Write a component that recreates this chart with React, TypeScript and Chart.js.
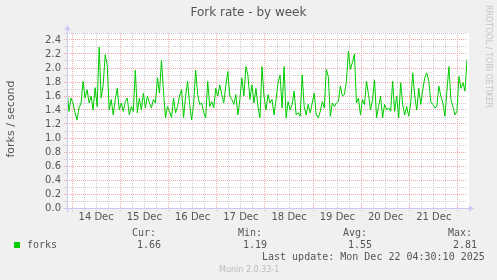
import React, { useEffect, useRef } from "react";
import { Chart, registerables } from "chart.js";

Chart.register(...registerables);

// hours relative to 14 Dec 00:00; series sampled every hour
const START_HOUR = -2.5;
const END_HOUR = 196.5;
const STEP_HOURS = 1;

const forks = [
  1.71, 1.38, 1.57, 1.5, 1.36, 1.26, 1.43, 1.5, 1.81, 1.57,
  1.69, 1.5, 1.6, 1.4, 1.72, 1.45, 2.3, 1.57, 1.76, 2.19,
  2.05, 1.4, 1.55, 1.33, 1.55, 1.71, 1.4, 1.5, 1.38, 1.52,
  1.57, 1.33, 1.45, 1.38, 1.97, 1.36, 1.57, 1.4, 1.64, 1.43,
  1.6, 1.5, 1.43, 1.55, 1.5, 1.86, 1.64, 2.11, 1.67, 1.29,
  1.45, 1.38, 1.29, 1.57, 1.36, 1.45, 1.6, 1.69, 1.29, 1.6,
  1.81, 1.48, 1.26, 1.48, 1.97, 1.62, 1.48, 1.5, 1.36, 1.29,
  1.81, 1.45, 1.52, 1.43, 1.71, 1.6, 1.76, 1.62, 1.5, 1.75,
  1.95, 1.6, 1.55, 1.48, 1.62, 1.33, 1.55, 1.86, 1.6, 2.02,
  1.9, 1.55, 1.76, 1.5, 1.71, 1.45, 1.29, 2.02, 1.6, 1.4,
  1.62, 1.5, 1.55, 1.33, 1.55, 1.79, 1.9, 1.43, 2.02, 1.29,
  1.52, 1.4, 1.48, 1.67, 1.33, 1.36, 1.31, 1.9, 1.45, 1.33,
  1.48, 1.36, 1.5, 1.64, 1.33, 1.29, 1.38, 1.52, 1.43, 1.98,
  1.88, 1.31, 1.5, 1.45, 1.5, 1.52, 1.74, 1.6, 1.62, 1.81,
  2.24, 1.98, 2.08, 2.2, 1.5, 1.57, 1.33, 1.55, 1.48, 1.81,
  1.62, 1.4, 1.55, 1.83, 1.29, 1.45, 1.6, 1.29, 1.48, 1.4,
  1.43, 1.38, 1.81, 1.38, 1.6, 1.29, 1.79, 1.48, 1.33, 1.45,
  1.31, 1.5, 1.93, 1.6, 1.4, 1.71, 1.48, 1.69, 1.86, 1.93,
  1.81, 1.52, 1.48, 1.43, 1.45, 1.74, 1.6, 1.5, 1.31, 1.67,
  2.02, 1.55, 1.45, 1.33, 1.38, 1.88, 1.71, 1.79, 1.67, 2.12,
];

const dayLabels = ["14 Dec", "15 Dec", "16 Dec", "17 Dec", "18 Dec", "19 Dec", "20 Dec", "21 Dec"];
const yMin = 0;
const yMax = 2.5;
const yMinorStep = 0.1;
const xMinorStepHours = 6;

const titleText = "Fork rate - by week";
const yTitle = "forks / second";
const seriesName = "forks";
const statNames = ["Cur:", "Min:", "Avg:", "Max:"];
const statValues = ["1.66", "1.19", "1.55", "2.81"];
const lastUpdate = "Last update: Mon Dec 22 04:30:10 2025";
const version = "Munin 2.0.33-1";
const watermark = "RRDTOOL / TOBI OETIKER";

const GREEN = "#00cc00";
const MAJOR = "#f2a6a6";
const MINOR = "#cdcdcd";
const AXIS = "#c8c8f4";
const TEXT = "#555555";

const muninPlugin = {
  id: "munin",
  beforeDraw(chart: any) {
    const { ctx, chartArea: a } = chart;
    ctx.save();
    ctx.fillStyle = "#f0f0f0";
    ctx.fillRect(0, 0, chart.width, chart.height);
    ctx.fillStyle = "#ffffff";
    ctx.fillRect(a.left, a.top, a.right - a.left + 2, a.bottom - a.top);
    ctx.restore();
  },
  afterDraw(chart: any) {
    const { ctx, chartArea: a } = chart;
    ctx.save();
    // axes
    ctx.strokeStyle = AXIS;
    ctx.fillStyle = AXIS;
    ctx.lineWidth = 1;
    const bx = Math.round(a.left) + 0.5;
    const by = Math.round(a.bottom) + 0.5;
    ctx.beginPath();
    ctx.moveTo(bx - 4, by);
    ctx.lineTo(a.right + 3, by);
    ctx.moveTo(bx, by + 4);
    ctx.lineTo(bx, a.top - 4);
    ctx.stroke();
    ctx.beginPath();
    ctx.moveTo(a.right + 7, by);
    ctx.lineTo(a.right + 2, by - 3);
    ctx.lineTo(a.right + 2, by + 3);
    ctx.closePath();
    ctx.fill();
    ctx.beginPath();
    ctx.moveTo(bx, a.top - 8);
    ctx.lineTo(bx - 3, a.top - 3);
    ctx.lineTo(bx + 3, a.top - 3);
    ctx.closePath();
    ctx.fill();

    // title
    ctx.fillStyle = TEXT;
    ctx.font = '12px "DejaVu Sans"';
    ctx.textAlign = "center";
    ctx.textBaseline = "middle";
    ctx.fillText(titleText, 248.5, 13);

    // y title
    ctx.save();
    ctx.translate(11, 119);
    ctx.rotate(-Math.PI / 2);
    ctx.font = '11px "DejaVu Sans"';
    ctx.fillText(yTitle, 0, 0);
    ctx.restore();

    // watermark
    ctx.save();
    ctx.translate(488, 5);
    ctx.rotate(Math.PI / 2);
    ctx.font = '8px "DejaVu Sans"';
    ctx.fillStyle = "#c4c4c4";
    ctx.textAlign = "left";
    ctx.fillText(watermark, 0, 0);
    ctx.restore();

    // legend
    ctx.fillStyle = GREEN;
    ctx.fillRect(14, 242, 6, 6);
    ctx.fillStyle = TEXT;
    ctx.font = '10px "DejaVu Sans Mono"';
    ctx.textAlign = "left";
    ctx.fillText(seriesName, 27, 245.5);
    const nameX = [132, 238, 343, 448];
    const valX = [137, 243, 348, 453];
    statNames.forEach((n, i) => ctx.fillText(n, nameX[i], 233.5));
    statValues.forEach((v, i) => ctx.fillText(v, valX[i], 245.5));
    ctx.fillText(lastUpdate, 262, 257.5);

    ctx.font = '8px "DejaVu Sans"';
    ctx.fillStyle = "#bcbcbc";
    ctx.fillText(version, 219, 269.5);
    ctx.restore();
  },
};

export default function App() {
  const ref = useRef<HTMLCanvasElement | null>(null);

  useEffect(() => {
    if (!ref.current) return;
    const points = forks.map((v, i) => ({ x: START_HOUR + i * STEP_HOURS, y: v }));
    const chart = new Chart(ref.current, {
      type: "line",
      data: {
        datasets: [
          {
            label: seriesName,
            data: points,
            borderColor: GREEN,
            borderWidth: 1,
            pointRadius: 0,
            tension: 0,
            fill: false,
          },
        ],
      },
      options: {
        animation: false,
        responsive: false,
        maintainAspectRatio: false,
        layout: { padding: { left: 0, top: 33, right: 30, bottom: 52 } },
        plugins: {
          legend: { display: false },
          tooltip: { enabled: false },
          title: { display: false },
        },
        scales: {
          x: {
            type: "linear",
            min: START_HOUR,
            max: END_HOUR,
            afterBuildTicks: (s: any) => {
              const t = [];
              for (let h = 0; h <= END_HOUR; h += xMinorStepHours) t.push({ value: h });
              s.ticks = t;
            },
            afterFit: (s: any) => {
              s.height = 20;
            },
            ticks: {
              autoSkip: false,
              maxRotation: 0,
              minRotation: 0,
              padding: 0,
              color: TEXT,
              font: { family: "DejaVu Sans", size: 10 },
              callback: (v: any) => {
                const h = Number(v);
                if (h % 24 === 12) return dayLabels[(h - 12) / 24] ?? "";
                return "";
              },
            },
            grid: {
              color: (c: any) => (c.tick && c.tick.value % 24 === 0 ? MAJOR : MINOR),
              tickColor: (c: any) => (c.tick && c.tick.value % 24 === 0 ? MAJOR : MINOR),
              tickLength: 3,
              tickBorderDash: [1, 1],
              lineWidth: 1,
            },
            border: { display: false, dash: [1, 1] },
          },
          y: {
            type: "linear",
            min: yMin,
            max: yMax,
            afterBuildTicks: (s: any) => {
              const t = [];
              const n = Math.round((yMax - yMin) / yMinorStep);
              for (let k = 0; k <= n; k++) t.push({ value: yMin + k * yMinorStep });
              s.ticks = t;
            },
            afterFit: (s: any) => {
              s.width = 67;
            },
            ticks: {
              autoSkip: false,
              padding: 3,
              color: TEXT,
              font: { family: "DejaVu Sans", size: 10 },
              callback: (v: any) => {
                const k = Math.round(Number(v) * 10);
                if (k % 2 === 0 && k < 25) return (k / 10).toFixed(1);
                return "";
              },
            },
            grid: {
              color: (c: any) => (c.tick && Math.round(c.tick.value * 10) % 2 === 0 ? MAJOR : MINOR),
              tickColor: (c: any) => (c.tick && Math.round(c.tick.value * 10) % 2 === 0 ? MAJOR : MINOR),
              tickLength: 3,
              tickBorderDash: [1, 1],
              lineWidth: 1,
            },
            border: { display: false, dash: [1, 1] },
          },
        },
      },
      plugins: [muninPlugin],
    } as any);
    return () => chart.destroy();
  }, []);

  return (
    <div style={{ position: "absolute", left: 0, top: 0, width: 497, height: 280, background: "#f0f0f0" }}>
      <canvas ref={ref} width={497} height={280} style={{ width: 497, height: 280, display: "block" }} />
    </div>
  );
}
